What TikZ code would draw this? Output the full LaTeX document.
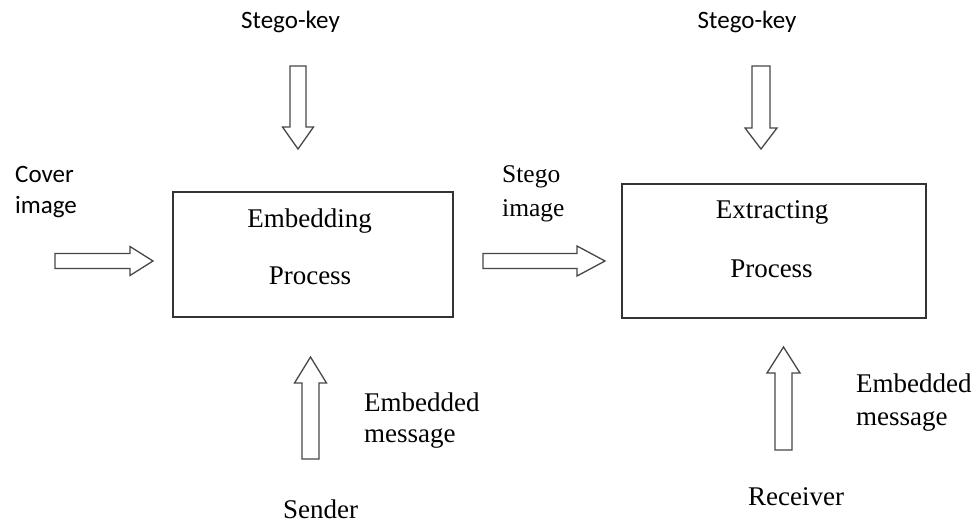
\documentclass[tikz,border=0pt]{standalone}
\usepackage{fontspec}
\setmainfont{Liberation Serif}
\newfontfamily\labelsans{Carlito}
\usetikzlibrary{calc}

\tikzset{
  serif/.style={font=\fontsize{27}{30}\selectfont, inner sep=0pt, text=black},
  serifsmall/.style={font=\fontsize{25.5}{30}\selectfont, inner sep=0pt, text=black},
  sans/.style={font=\labelsans\fontsize{25}{30}\selectfont, inner sep=0pt, text=black},
  processbox/.style={draw=black!80, line width=1.4pt, inner sep=0pt},
  hollow/.style={draw=black!72, line width=1.3pt, fill=white, line join=miter},
}

% hollow block arrow: tail, tip, shaft half-width, head half-width, head length
\newcommand\hollowarrow[5]{%
  \draw[hollow] let \p1=($(#2)-(#1)$), \n1={atan2(\y1,\x1)}, \n2={veclen(\x1,\y1)} in
    [shift={(#1)}, rotate=\n1]
    (0pt,-#3) -- ({\n2*1pt-#5},-#3) -- ({\n2*1pt-#5},-#4) -- ({\n2*1pt},0pt)
    -- ({\n2*1pt-#5},#4) -- ({\n2*1pt-#5},#3) -- (0pt,#3) -- cycle;}

\begin{document}
\begin{tikzpicture}[x=1pt,y=-1pt]
  \useasboundingbox (0,0) rectangle (979,525);

  % process boxes
  \node[processbox, minimum width=280pt, minimum height=125pt] (embed) at (313,254.5) {};
  \node[processbox, minimum width=304pt, minimum height=134pt] (extract) at (774,251) {};

  \node[serif, anchor=base] (embedT) at (309.5,227) {Embedding};
  \node[serif, anchor=base] (embedP) at (310,284) {Process};
  \node[serif, anchor=base] (extractT) at (772,218) {Extracting};
  \node[serif, anchor=base] (extractP) at (771.5,277) {Process};

  % labels
  \node[sans, anchor=base] (keyA) at (290.5,28) {Stego-key};
  \node[sans, anchor=base] (keyB) at (747,28) {Stego-key};
  \node[sans, anchor=base west] (cover1) at (15,182) {Cover};
  \node[sans, anchor=base west] (cover2) at (15,213) {image};
  \node[serifsmall, anchor=base west] (stego1) at (502,182) {Stego};
  \node[serifsmall, anchor=base west] (stego2) at (502,216) {image};
  \node[serif, anchor=base west] (msgA1) at (364,411) {Embedded};
  \node[serif, anchor=base west] (msgA2) at (364,442) {message};
  \node[serif, anchor=base west] (sender) at (283,518) {Sender};
  \node[serif, anchor=base west] (msgB1) at (856,392) {Embedded};
  \node[serif, anchor=base west] (msgB2) at (856,425) {message};
  \node[serif, anchor=base west] (receiver) at (748,505) {Receiver};

  % arrow end points
  \coordinate (coverTail) at (55,261);   \coordinate (coverTip) at (153,261);
  \coordinate (stegoTail) at (483,261);  \coordinate (stegoTip) at (605,261);
  \coordinate (keyATail) at (298,66);    \coordinate (keyATip) at (298,149);
  \coordinate (keyBTail) at (761,66);    \coordinate (keyBTip) at (761,149);
  \coordinate (sendTail) at (310.5,459); \coordinate (sendTip) at (310.5,357);
  \coordinate (recvTail) at (783.5,450); \coordinate (recvTip) at (783.5,347);

  \hollowarrow{coverTail}{coverTip}{7.5pt}{14.5pt}{23pt}
  \hollowarrow{stegoTail}{stegoTip}{7.5pt}{15pt}{28pt}
  \hollowarrow{keyATail}{keyATip}{8pt}{15.5pt}{22pt}
  \hollowarrow{keyBTail}{keyBTip}{9pt}{16pt}{21pt}
  \hollowarrow{sendTail}{sendTip}{8.5pt}{16pt}{26pt}
  \hollowarrow{recvTail}{recvTip}{8.5pt}{16.5pt}{26pt}
\end{tikzpicture}
\end{document}
